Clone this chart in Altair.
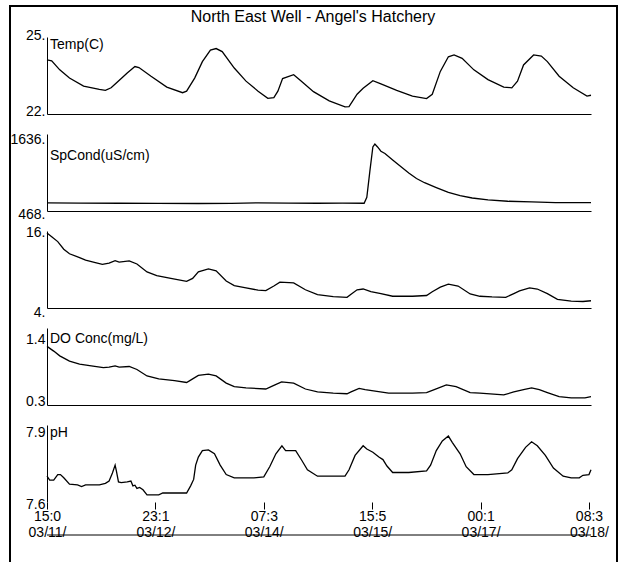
import altair as alt
import pandas as pd

TITLE = "North East Well - Angel's Hatchery"

# ---- data (hours since 03/11 15:00, values) ----
temp_h = [0, 1.4, 3.8, 6.7, 10.9, 15.6, 17.4, 19.1, 20.9, 23.9, 26.2, 27.4, 31.0, 35.7, 40.4, 41.6,
          44.0, 46.3, 48.7, 50.4, 52.2, 55.8, 59.3, 62.9, 65.8, 67.6, 68.8, 70.2, 73.5, 75.8, 79.4,
          84.1, 88.8, 90.0, 92.4, 94.2, 97.1, 99.5, 104.2, 108.9, 113.1, 114.8, 117.2, 119.6, 121.3,
          123.7, 127.2, 131.4, 136.1, 138.5, 140.2, 142.0, 145.0, 147.3, 149.1, 152.6, 156.8, 160.9, 162.1]
temp_v = [24.11, 24.07, 23.72, 23.40, 23.09, 22.96, 22.92, 23.02, 23.24, 23.60, 23.85, 23.81, 23.47,
          23.05, 22.83, 22.89, 23.40, 24.04, 24.49, 24.55, 24.43, 23.79, 23.28, 22.89, 22.61, 22.64,
          22.89, 23.38, 23.53, 23.28, 22.87, 22.51, 22.28, 22.29, 22.77, 23.00, 23.30, 23.17, 22.92,
          22.70, 22.60, 22.77, 23.66, 24.23, 24.30, 24.17, 23.72, 23.34, 23.05, 23.02, 23.28, 23.91,
          24.30, 24.26, 24.04, 23.47, 23.02, 22.70, 22.73]

cond_h = [0, 10.0, 21.5, 33.0, 45.1, 55.0, 62.9, 72.0, 80.6, 88.0, 94.5, 95.3, 96.2, 97.1, 97.7, 98.5,
          99.5, 100.7, 103.0, 105.4, 107.8, 110.1, 112.5, 116.0, 119.6, 123.1, 126.7, 131.4, 137.3,
          144.4, 151.5, 162.1]
cond_v = [609, 606, 603, 600, 598, 602, 609, 604, 603, 606, 603, 705, 1156, 1580, 1630, 1580, 1506,
          1467, 1354, 1241, 1128, 1032, 959, 874, 790, 733, 694, 660, 637, 626, 615, 615]

odo_h = [0, 1.4, 3.2, 5.0, 6.7, 9.7, 11.5, 14.4, 16.5, 18.5, 20.3, 21.5, 24.5, 26.8, 29.8, 32.7, 36.9,
         41.6, 43.4, 45.1, 48.1, 50.4, 53.4, 55.8, 59.3, 62.9, 65.2, 67.6, 69.4, 73.5, 77.0, 80.6, 85.3,
         89.4, 90.6, 92.4, 94.2, 96.5, 99.5, 103.0, 108.9, 113.1, 114.8, 117.2, 119.6, 122.5, 126.1,
         129.0, 132.6, 136.7, 139.1, 140.8, 143.8, 146.1, 149.1, 152.1, 156.2, 159.7, 162.1]
odo_v = [15.70, 15.11, 14.35, 13.16, 12.45, 11.86, 11.45, 11.09, 10.80, 10.98, 11.39, 11.15, 11.33,
         10.86, 9.62, 9.03, 8.61, 8.14, 8.61, 9.62, 10.09, 9.80, 8.20, 7.49, 7.13, 6.78, 6.72, 7.43,
         8.02, 7.90, 6.84, 6.07, 5.78, 5.66, 6.13, 6.84, 6.96, 6.54, 6.25, 5.83, 5.83, 5.95, 6.54, 7.25,
         7.73, 7.43, 6.19, 5.83, 5.72, 5.66, 6.25, 6.66, 7.13, 6.96, 6.25, 5.36, 5.07, 5.01, 5.13]

do_h = [0, 2.0, 3.8, 6.7, 9.7, 13.2, 16.8, 18.5, 20.3, 21.5, 24.5, 26.8, 29.8, 33.3, 38.0, 41.6, 42.8,
        45.1, 48.1, 50.4, 53.4, 55.8, 59.3, 65.2, 67.6, 69.9, 73.5, 77.0, 80.6, 85.3, 89.4, 90.6, 93.0,
        94.8, 98.3, 101.8, 108.9, 113.1, 115.4, 119.0, 121.9, 126.1, 129.0, 136.1, 139.1, 142.0, 144.4,
        146.7, 149.1, 152.6, 156.2, 160.3, 162.1]
do_v = [1.29, 1.21, 1.13, 1.04, 0.99, 0.96, 0.93, 0.94, 0.96, 0.94, 0.95, 0.90, 0.79, 0.74, 0.71, 0.68,
        0.72, 0.80, 0.82, 0.79, 0.67, 0.61, 0.59, 0.57, 0.63, 0.69, 0.67, 0.57, 0.52, 0.50, 0.49, 0.52,
        0.58, 0.56, 0.53, 0.50, 0.50, 0.51, 0.56, 0.64, 0.61, 0.51, 0.50, 0.47, 0.52, 0.56, 0.59, 0.56,
        0.51, 0.44, 0.42, 0.42, 0.44]

ph_h = [0, 0.8, 2.0, 3.2, 4.0, 5.0, 6.7, 9.1, 10.3, 11.5, 15.6, 17.4, 18.5, 19.5, 20.3, 20.7, 21.3,
        22.1, 23.9, 25.0, 25.6, 26.2, 26.8, 27.6, 28.6, 29.8, 33.3, 34.5, 41.6, 42.8, 43.7, 44.3, 45.1,
        46.3, 48.1, 49.9, 51.6, 53.4, 55.8, 61.7, 64.6, 66.4, 68.2, 70.0, 71.1, 74.1, 75.9, 77.6, 80.6,
        88.8, 90.0, 91.8, 94.2, 95.3, 97.1, 98.9, 100.1, 101.3, 103.0, 107.8, 113.1, 114.3, 116.0, 117.8,
        119.6, 120.8, 123.1, 124.9, 127.2, 131.4, 137.3, 138.5, 140.2, 142.6, 144.4, 146.1, 148.5, 150.9,
        153.8, 156.2, 158.6, 159.7, 161.5, 162.1]
ph_v = [7.712, 7.695, 7.695, 7.719, 7.719, 7.705, 7.677, 7.674, 7.667, 7.674, 7.674, 7.681, 7.691,
        7.726, 7.760, 7.733, 7.687, 7.684, 7.687, 7.691, 7.670, 7.673, 7.659, 7.663, 7.653, 7.631,
        7.631, 7.639, 7.639, 7.670, 7.698, 7.760, 7.795, 7.823, 7.826, 7.809, 7.760, 7.719, 7.705,
        7.705, 7.709, 7.754, 7.809, 7.844, 7.823, 7.823, 7.781, 7.740, 7.712, 7.712, 7.740, 7.802,
        7.844, 7.830, 7.816, 7.795, 7.784, 7.756, 7.728, 7.728, 7.735, 7.760, 7.823, 7.865, 7.886,
        7.858, 7.809, 7.753, 7.719, 7.719, 7.726, 7.740, 7.788, 7.837, 7.861, 7.844, 7.802, 7.747,
        7.712, 7.705, 7.705, 7.716, 7.719, 7.740]

# axis tick labels
tick_hours = [0, 32.3, 64.6, 96.9, 129.2, 161.5]
tick_time = ["15:0", "23:1", "07:3", "15:5", "00:1", "08:3"]
tick_date = ["03/11/", "03/12/", "03/14/", "03/15/", "03/17/", "03/18/"]

FONT = "Liberation Sans"
FS = 14
W = 544
H = 77
XMAX = 162.1

one = pd.DataFrame({"a": [0]})


def js_list(items):
    return "[" + ",".join("'" + s + "'" for s in items) + "]"


def panel(h, v, lo, hi, scale_top, top_lbl, bot_lbl, off_top, off_bot, name, name_y,
          last=False, first=False):
    df = pd.DataFrame({"h": h, "v": v})
    mid = (lo + hi) / 2
    yax = alt.Axis(values=[lo, hi],
                   labelExpr=f"datum.value > {mid} ? '{top_lbl}' : '{bot_lbl}'",
                   labelOffset={"condition": {"test": f"datum.value > {mid}", "value": off_top},
                                "value": off_bot},
                   ticks=False, grid=False, domain=True, domainColor="black", domainWidth=1,
                   title=None, labelFlush=False, labelPadding=2, labelFont=FONT,
                   labelFontSize=FS, labelColor="black", labelBaseline="middle")
    if last:
        idx = f"round(datum.value / {tick_hours[1]})"
        xax = alt.Axis(values=tick_hours,
                       labelExpr=f"[{js_list(tick_time)}[{idx}], {js_list(tick_date)}[{idx}]]",
                       domain=False, ticks=True, tickSize=7, tickColor="black", grid=False,
                       title=None, labelFont=FONT, labelFontSize=FS, labelColor="black",
                       labelPadding=0, labelAlign="center", labelFlush=False, labelLineHeight=16)
    else:
        xax = alt.Axis(labels=False, ticks=False, grid=False, domain=True, domainColor="black",
                       domainWidth=1, title=None)
    line = alt.Chart(df).mark_line(color="black", strokeWidth=1.3).encode(
        x=alt.X("h:Q", scale=alt.Scale(domain=[0, XMAX], nice=False, zero=False), axis=xax),
        y=alt.Y("v:Q", scale=alt.Scale(domain=[lo, scale_top], nice=False, zero=False), axis=yax),
    )
    layers = [line]
    if name:
        layers.append(alt.Chart(one).mark_text(
            align="left", baseline="middle", font=FONT, fontSize=FS, color="black").encode(
            x=alt.value(3), y=alt.value(name_y), text=alt.value(name)))
    if first:
        layers.append(alt.Chart(one).mark_text(
            align="center", baseline="middle", font=FONT, fontSize=16, color="black").encode(
            x=alt.value(266), y=alt.value(-20), text=alt.value(TITLE)))
        layers.append(alt.Chart(one).mark_rect(
            filled=False, stroke="black", strokeWidth=2).encode(
            x=alt.value(-37), x2=alt.value(570), y=alt.value(-31), y2=alt.value(560)))
    if last:
        layers.append(alt.Chart(one).mark_rule(color="black", strokeWidth=1).encode(
            x=alt.value(0), x2=alt.value(W), y=alt.value(H + 33)))
    return alt.layer(*layers).properties(width=W, height=H)


p1 = panel(temp_h, temp_v, 22, 25, 25, "25.", "22.", -2, -3, "Temp(C)", 8, first=True)
p2 = panel(cond_h, cond_v, 468, 1636, 1805, "1636.", "468.", -4, 3, "SpCond(uS/cm)", 22)
p3 = panel(odo_h, odo_v, 4, 16, 16, "16.", "4.", 1, 4, None, 0)
p4 = panel(do_h, do_v, 0.3, 1.4, 1.6, "1.4", "0.3", 0, -4, "DO Conc(mg/L)", 11)
p5 = panel(ph_h, ph_v, 7.6, 7.9, 7.934, "7.9", "7.6", 0, 2, "pH", 8, last=True)

chart = alt.vconcat(p1, p2, p3, p4, p5, spacing=20, bounds="flush").properties(
    padding={"left": 9, "top": 5, "right": 0, "bottom": 0},
    background="white",
).configure_view(stroke=None)

chart.save("out.html", embed_options={"renderer": "svg", "actions": False})
